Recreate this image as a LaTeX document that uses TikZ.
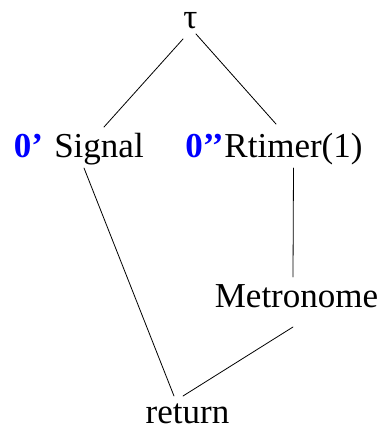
\documentclass[tikz,border=0pt]{standalone}
\usepackage{fontspec}
\setmainfont{Liberation Serif}
\newfontfamily\trserif{Liberation Serif}
\usepackage{xcolor}
\usepackage{tikz}
\definecolor{trTag}{HTML}{0000FF}
\tikzset{
  tr diagram/.style={x=1pt, y=-1pt, font=\trserif\fontsize{35}{42}\selectfont,
    line cap=round, line join=round},
  tr node/.style={inner sep=0pt, anchor=base},
  tr tag/.style={tr node, text=trTag, font=\trserif\bfseries\fontsize{35}{42}\selectfont},
  tr edge/.style={draw=black, line width=0.8pt}
}
\begin{document}
\begin{tikzpicture}[tr diagram]
\useasboundingbox (0,0) rectangle (383,432);
\node[tr node] (tau) at (190.5,28) {τ};
\node[tr node] (sig) at (99,157) {Signal};
\node[tr tag] (sigtag) at (28.5,157) {0’};
\node[tr node] (rtm) at (293.5,157) {Rtimer(1)};
\node[tr tag] (rtmtag) at (204.5,157) {0’’};
\node[tr node] (met) at (296.5,307) {Metronome};
\node[tr node] (ret) at (187.5,423) {return};
\draw[tr edge] ([shift={(-7.5,11)}]tau.base) -- ([shift={(5,-30)}]sig.base);
\draw[tr edge] ([shift={(5.5,6)}]tau.base) -- ([shift={(-17.5,-33)}]rtm.base);
\draw[tr edge] ([shift={(-15,11)}]sig.base) -- ([shift={(-13.5,-27)}]ret.base);
\draw[tr edge] ([shift={(0,11)}]rtm.base) -- ([shift={(-3.5,-30)}]met.base);
\draw[tr edge] ([shift={(-3.5,20)}]met.base) -- ([shift={(-4.5,-27)}]ret.base);
\end{tikzpicture}
\end{document}
